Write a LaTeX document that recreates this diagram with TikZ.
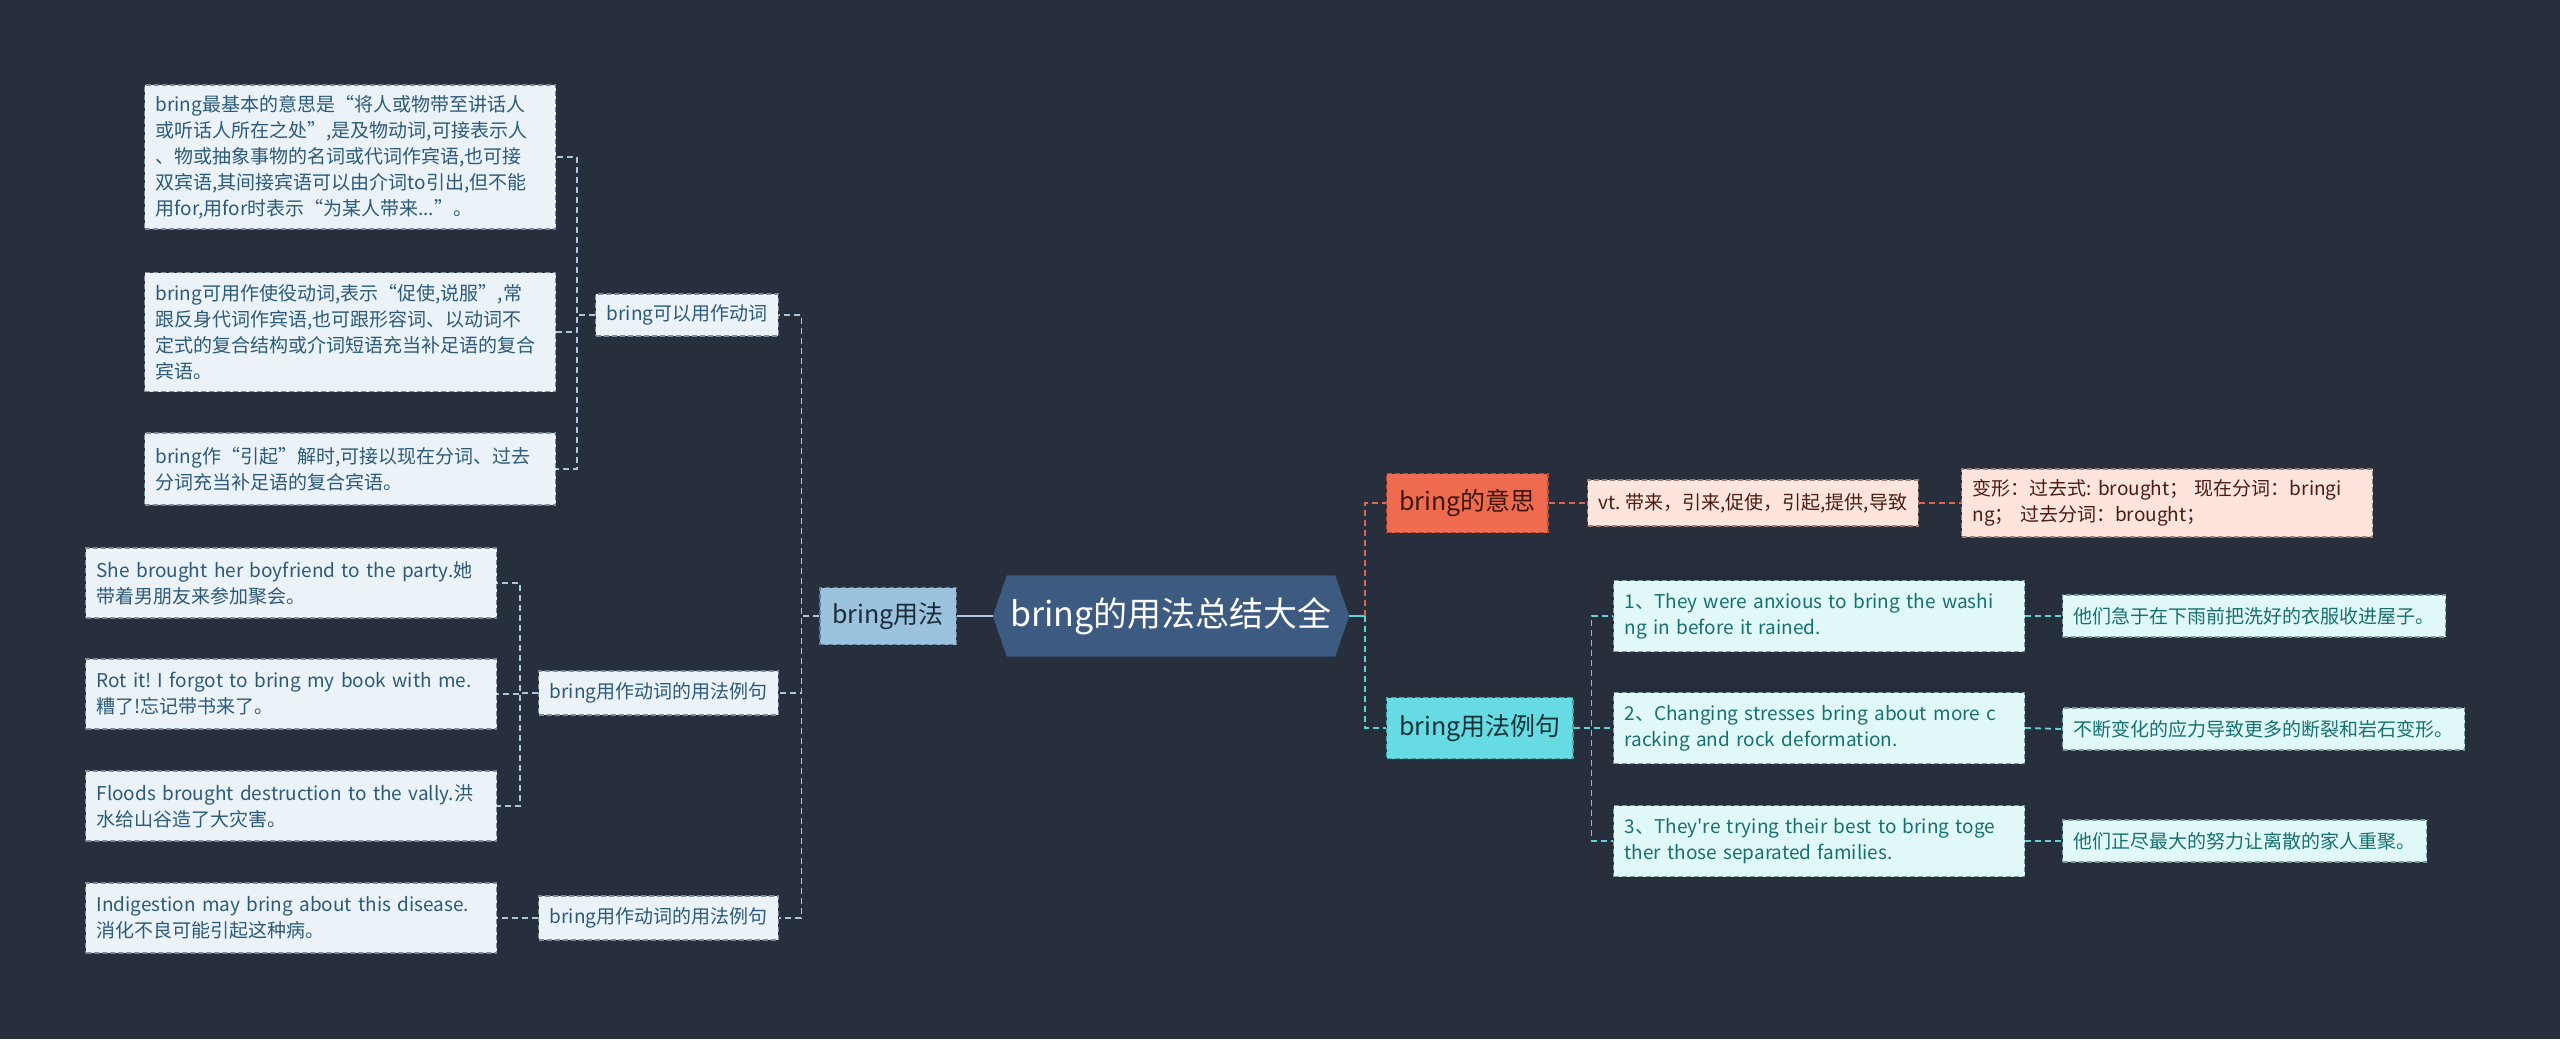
\documentclass[tikz,border=0pt]{standalone}
\usepackage{fontspec}
\setmainfont{Noto Sans CJK SC}
\newfontfamily\rawf[Ligatures=TeXOff]{Noto Sans CJK SC}
\frenchspacing
\usetikzlibrary{backgrounds}
\definecolor{bgc}{HTML}{272F3D}
\definecolor{rootfill}{HTML}{3D5A80}
\definecolor{usefill}{HTML}{9CC3DE}
\definecolor{usetext}{HTML}{1D2A38}
\definecolor{useborder}{HTML}{5F7F99}
\definecolor{lfill}{HTML}{EBF3F9}
\definecolor{ltext}{HTML}{2C5A78}
\definecolor{lborder}{HTML}{7A8C9C}
\definecolor{lline}{HTML}{A9C8DF}
\definecolor{mfill}{HTML}{EE6B4F}
\definecolor{mtext}{HTML}{3B160C}
\definecolor{mborder}{HTML}{B74A35}
\definecolor{pfill}{HTML}{FDE4DC}
\definecolor{ptext}{HTML}{4B1C10}
\definecolor{pborder}{HTML}{9C7E76}
\definecolor{rline}{HTML}{E0674D}
\definecolor{cfill}{HTML}{67DBE3}
\definecolor{ctext}{HTML}{0F3338}
\definecolor{cborder}{HTML}{3FA3AA}
\definecolor{tfill}{HTML}{E1F8F8}
\definecolor{ttext}{HTML}{17706F}
\definecolor{tborder}{HTML}{7A9A9C}
\definecolor{cline}{HTML}{5ED3DC}
\tikzset{
  box/.style={draw, line width=1.2pt, dash pattern=on 5pt off 3pt, inner xsep=11pt, inner ysep=5pt, align=left, font=\fontsize{19pt}{26pt}\selectfont},
  lbox/.style={box, fill=lfill, draw=lborder, text=ltext},
  pbox/.style={box, fill=pfill, draw=pborder, text=ptext},
  tbox/.style={box, fill=tfill, draw=tborder, text=ttext},
  wide/.style={text width=389pt},
  hub/.style={box, font=\fontsize{25pt}{30pt}\selectfont, inner xsep=12.5pt, minimum height=58pt},
  lk/.style={line width=1.8pt, dash pattern=on 6pt off 4pt},
  lkL/.style={lk, draw=lline},
  lkR/.style={lk, draw=rline},
  lkC/.style={lk, draw=cline},
}
\begin{document}
\begin{tikzpicture}[x=1pt,y=-1pt]
\useasboundingbox (0,0) rectangle (2560,1039);

% root
\node[minimum width=356pt, minimum height=81pt, inner sep=0pt, text=white, font=\fontsize{34pt}{38pt}\selectfont] (root) at (1171,616) {bring的用法总结大全};
\begin{scope}[on background layer]
  \fill[bgc] (0,0) rectangle (2560,1039);
  \fill[rootfill] (root.west) -- ([xshift=14pt]root.north west) -- ([xshift=-14pt]root.north east) -- (root.east) -- ([xshift=-14pt]root.south east) -- ([xshift=14pt]root.south west) -- cycle;
\end{scope}

% left branch
\node[hub, fill=usefill, draw=useborder, text=usetext, anchor=east, minimum height=57pt] (use) at (957,616) {bring用法};

\node[lbox, anchor=east, minimum height=42pt] (verb) at (779,315) {bring可以用作动词};
\node[lbox, anchor=east, minimum height=44pt] (exa) at (779,693) {bring用作动词的用法例句};
\node[lbox, anchor=east, minimum height=44pt] (exb) at (779,918) {bring用作动词的用法例句};

\node[lbox, wide, anchor=west, minimum height=144pt] (a1) at (144,157) {\mbox{bring最基本的意思是“将人或物带至讲话人}\\\mbox{或听话人所在之处”,是及物动词,可接表示人}\\\mbox{、物或抽象事物的名词或代词作宾语,也可接}\\\mbox{双宾语,其间接宾语可以由介词to引出,但不能}\\\mbox{用for,用for时表示“为某人带来...”。}};
\node[lbox, wide, anchor=west, minimum height=119pt] (a2) at (144,332) {\mbox{bring可用作使役动词,表示“促使,说服”,常}\\\mbox{跟反身代词作宾语,也可跟形容词、以动词不}\\\mbox{定式的复合结构或介词短语充当补足语的复合}\\\mbox{宾语。}};
\node[lbox, wide, anchor=west, minimum height=72pt] (a3) at (144,469) {\mbox{bring作“引起”解时,可接以现在分词、过去}\\\mbox{分词充当补足语的复合宾语。}};

\node[lbox, wide, anchor=west, minimum height=70pt] (b1) at (85,583) {\mbox{She brought her boyfriend to the party.她}\\\mbox{带着男朋友来参加聚会。}};
\node[lbox, wide, anchor=west, minimum height=70pt] (b2) at (85,694) {\mbox{Rot it! I forgot to bring my book with me.}\\\mbox{糟了!忘记带书来了。}};
\node[lbox, wide, anchor=west, minimum height=70pt] (b3) at (85,806) {\mbox{Floods brought destruction to the vally.洪}\\\mbox{水给山谷造了大灾害。}};
\node[lbox, wide, anchor=west, minimum height=70pt] (b4) at (85,918) {\mbox{Indigestion may bring about this disease.}\\\mbox{消化不良可能引起这种病。}};

% right branch
\node[hub, fill=mfill, draw=mborder, text=mtext, anchor=west, minimum height=59pt] (mean) at (1386,503) {bring的意思};
\node[hub, fill=cfill, draw=cborder, text=ctext, anchor=west, minimum height=61pt] (ex) at (1386,728) {bring用法例句};

\node[pbox, anchor=west, minimum height=46pt] (vt) at (1587,503) {vt. 带来，引来,促使，引起,提供,导致};
\node[pbox, wide, anchor=west, minimum height=68pt] (form) at (1961,503) {\mbox{变形：过去式: brought； 现在分词：bringi}\\\mbox{ng； 过去分词：brought；}};

\node[tbox, wide, anchor=west, minimum height=71pt] (c1) at (1613,616) {\mbox{1、They were anxious to bring the washi}\\\mbox{ng in before it rained.}};
\node[tbox, wide, anchor=west, minimum height=71pt] (c2) at (1613,728) {\mbox{2、Changing stresses bring about more c}\\\mbox{racking and rock deformation.}};
\node[tbox, wide, anchor=west, minimum height=71pt] (c3) at (1613,841) {\mbox{3、They{\rawf'}re trying their best to bring toge}\\\mbox{ther those separated families.}};

\node[tbox, anchor=west, minimum height=42pt] (d1) at (2062,616) {他们急于在下雨前把洗好的衣服收进屋子。};
\node[tbox, anchor=west, minimum height=42pt] (d2) at (2062,729) {不断变化的应力导致更多的断裂和岩石变形。};
\node[tbox, anchor=west, minimum height=42pt] (d3) at (2062,841) {他们正尽最大的努力让离散的家人重聚。};

% connectors left
\draw[line width=2.5pt, lline] (root.west) -- (use.east);
\foreach \c in {verb,exa,exb} \draw[lkL] (use.west) -- ++(-18,0) |- (\c.east);
\foreach \c in {a1,a2,a3} \draw[lkL] (verb.west) -- ++(-18,0) |- (\c.east);
\foreach \c in {b1,b2,b3} \draw[lkL] (exa.west) -- ++(-18,0) |- (\c.east);
\draw[lkL] (exb.west) -- (b4.east);

% connectors right
\draw[line width=2.5pt, cline] (root.east) -- ++(16,0) coordinate (rj);
\draw[lkR] (rj) |- (mean.west);
\draw[lkC] (rj) |- (ex.west);
\draw[lkR] (mean.east) -- (vt.west);
\draw[lkR] (vt.east) -- (form.west);
\foreach \c in {c1,c2,c3} \draw[lkC] (ex.east) -- ++(18,0) |- (\c.west);
\draw[lkC] (c1.east) -- (d1.west);
\draw[lkC] (c2.east) -- (d2.west);
\draw[lkC] (c3.east) -- (d3.west);
\end{tikzpicture}
\end{document}
